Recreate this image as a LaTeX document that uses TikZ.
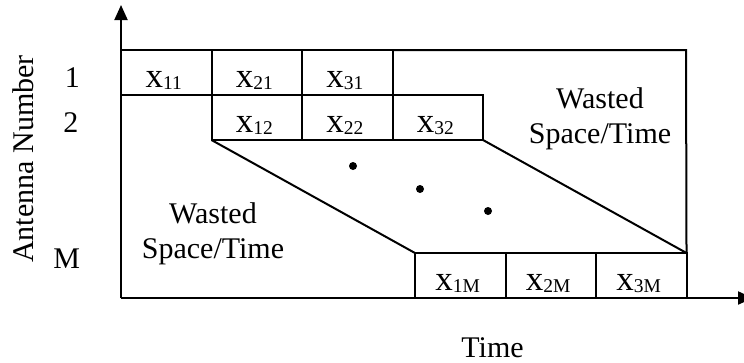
\documentclass[tikz,border=0pt]{standalone}
\usepackage{fontspec}
\setmainfont{Liberation Serif}
\usepackage{tikz}
\usetikzlibrary{arrows.meta}
\usetikzlibrary{positioning}
\tikzstyle{cell}=[draw,rectangle,minimum width=36.2pt,minimum height=18pt,inner sep=0pt,outer sep=0pt,text height=11.6pt,text depth=0pt,font=\fontsize{14}{16}\selectfont]
\tikzstyle{lbl}=[inner sep=0pt,font=\fontsize{12}{14}\selectfont]
\tikzstyle{dot}=[fill,circle,inner sep=0pt,minimum size=3.2pt]
\newcommand{\xsub}[1]{x\raisebox{-0.8pt}{\fontsize{7.8}{9}\selectfont #1}\kern2pt}

\begin{document}
\begin{tikzpicture}[x=0.4pt,y=-0.4pt,line width=0.8pt,>={Triangle[length=6pt,width=5.2pt]}]
\useasboundingbox (0,0) rectangle (744,362);
% axes
\coordinate (O) at (121,298);
\coordinate (ytop) at (121,5);
\coordinate (xend) at (753,298);
\draw [->] (O) -- (ytop);
\draw [->] (O) -- (xend);

% antenna 1
\node [cell,anchor=north west] (x11) at (121,50) {\xsub{11}};
\node [cell,right=0pt of x11] (x21) {\xsub{21}};
\node [cell,right=0pt of x21] (x31) {\xsub{31}};
% antenna 2
\node [cell,below=0pt of x21] (x12) {\xsub{12}};
\node [cell,right=0pt of x12] (x22) {\xsub{22}};
\node [cell,right=0pt of x22] (x32) {\xsub{32}};
% antenna M
\node [cell,anchor=south west] (x1M) at (415,298) {\xsub{1M}};
\node [cell,right=0pt of x1M] (x2M) {\xsub{2M}};
\node [cell,right=0pt of x2M] (x3M) {\xsub{3M}};

% frame and slanted edges
\coordinate (tr) at (686,50);
\draw (x31.north east) -- (tr) -- (x3M.north east);
\draw (x12.south west) -- (x1M.north west);
\draw (x32.south east) -- (x3M.north east);

\node [dot] (d1) at (353,166) {};
\node [dot] (d2) at (420,189) {};
\node [dot] (d3) at (488,211) {};

\node [lbl,align=center] (wr) at (600,119) {Wasted\\Space/Time};
\node [lbl,align=center] (wl) at (213,234) {Wasted\\Space/Time};

\node at (x11.base) [lbl,anchor=base,xshift=-37.6pt] (n1) {1};
\node at (x12.base) [lbl,anchor=base,xshift=-74.4pt] (n2) {2};
\node at (x1M.base) [lbl,anchor=base,xshift=-157.4pt,yshift=8.8pt] (nM) {M};

\node [lbl,rotate=90] (ylab) at (23,159) {Antenna Number};
\node [lbl,anchor=base] (xlab) at (492.5,357) {Time};
\end{tikzpicture}
\end{document}
